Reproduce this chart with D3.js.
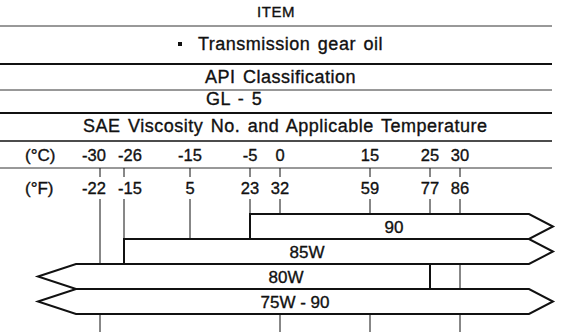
<!DOCTYPE html>
<html>
<head>
<meta charset="utf-8">
<script src="https://cdn.jsdelivr.net/npm/d3@7/dist/d3.min.js"></script>
<style>
  body { margin: 0; background: #fff; }
  svg { display: block; font-family: "Liberation Sans", Arial, Helvetica, sans-serif; }
  text { fill: #111; stroke: #111; stroke-width: 0.35px; }
</style>
</head>
<body>
<svg id="chart" width="576" height="332"></svg>
<script>
// header table rows
const headerText = ["ITEM", "Transmission gear oil", "API Classification", "GL - 5", "SAE Viscosity No. and Applicable Temperature"];

// temperature scale
const celsius = [-30, -26, -15, -5, 0, 15, 25, 30];
const fahrenheit = [-22, -15, 5, 23, 32, 59, 77, 86];
const unitLabels = ["(°C)", "(°F)"];
const bottomTicks = [-30, 0, 15, 30];

// viscosity grades, range in °C (null = arrow, open ended)
const grades = ["90", "85W", "80W", "75W - 90"];
const gradeFrom = [-5, -26, null, null];
const gradeTo = [null, null, 25, null];
const gradeLabelAt = [19, 4.5, 1, 2.5];

const svg = d3.select("#chart");

// layout
const ruleY = [26, 64, 90, 113, 141, 168];
const ruleW = [1, 2, 1, 2, 1.5, 1];
const headerLayout = [
  { x: 276, anchor: "middle", base: 17, size: 15 },
  { x: 198, anchor: "start", base: 50, size: 18 },
  { x: 205, anchor: "start", base: 83, size: 18 },
  { x: 206, anchor: "start", base: 105, size: 18 },
  { x: 83, anchor: "start", base: 132, size: 18 }
];

const x = d3.scaleLinear().domain([-30, 30]).range([100, 460]);
const y = d3.scaleBand().domain(grades).range([214, 314]);
const leftTip = 38, leftBase = 76, rightBase = 529, rightTip = 553;

// push crowded tick labels apart
const labelShift = (d, i) => {
  let dx = 0;
  if (i > 0 && x(d) - x(celsius[i - 1]) < 25) dx += 6;
  if (i < celsius.length - 1 && x(celsius[i + 1]) - x(d) < 25) dx -= 6;
  return dx;
};

// horizontal rules
svg.selectAll(".rule")
  .data(ruleY)
  .join("line")
  .attr("class", "rule")
  .attr("x1", 0)
  .attr("x2", 552)
  .attr("y1", (d) => d)
  .attr("y2", (d) => d)
  .attr("stroke", (d, i) => (ruleW[i] < 1.5 ? "#333" : "#111"))
  .attr("stroke-width", (d, i) => ruleW[i]);

// header texts
svg.selectAll(".head")
  .data(headerText)
  .join("text")
  .attr("class", "head")
  .attr("x", (d, i) => headerLayout[i].x)
  .attr("y", (d, i) => headerLayout[i].base)
  .attr("text-anchor", (d, i) => headerLayout[i].anchor)
  .attr("font-size", (d, i) => headerLayout[i].size)
  .attr("letter-spacing", 0.5)
  .attr("word-spacing", 2)
  .text((d) => d);

svg.append("rect")
  .attr("x", 178)
  .attr("y", 42)
  .attr("width", 4)
  .attr("height", 4)
  .attr("fill", "#111");

// unit labels
svg.selectAll(".unit")
  .data(unitLabels)
  .join("text")
  .attr("class", "unit")
  .attr("x", 25)
  .attr("y", (d, i) => (i === 0 ? 161 : 194))
  .attr("font-size", 17)
  .text((d) => d);

// tick labels
svg.selectAll(".cLabel")
  .data(celsius)
  .join("text")
  .attr("class", "cLabel")
  .attr("x", (d, i) => x(d) + labelShift(d, i))
  .attr("y", 161)
  .attr("text-anchor", "middle")
  .attr("font-size", 16.5)
  .text((d) => d);

svg.selectAll(".fLabel")
  .data(fahrenheit)
  .join("text")
  .attr("class", "fLabel")
  .attr("x", (d, i) => x(celsius[i]) + labelShift(celsius[i], i))
  .attr("y", 194)
  .attr("text-anchor", "middle")
  .attr("font-size", 16.5)
  .text((d) => d);

// short ticks under the °C rule
svg.selectAll(".tickTop")
  .data(celsius)
  .join("line")
  .attr("class", "tickTop")
  .attr("x1", (d) => x(d))
  .attr("x2", (d) => x(d))
  .attr("y1", 168)
  .attr("y2", 177)
  .attr("stroke", "#111")
  .attr("stroke-width", 1);

// grid lines behind the grade bars
svg.selectAll(".grid")
  .data(celsius)
  .join("line")
  .attr("class", "grid")
  .attr("x1", (d) => x(d))
  .attr("x2", (d) => x(d))
  .attr("y1", 199)
  .attr("y2", 300)
  .attr("stroke", "#111")
  .attr("stroke-width", 1);

svg.selectAll(".gridBottom")
  .data(bottomTicks)
  .join("line")
  .attr("class", "gridBottom")
  .attr("x1", (d) => x(d))
  .attr("x2", (d) => x(d))
  .attr("y1", 300)
  .attr("y2", 332)
  .attr("stroke", "#111")
  .attr("stroke-width", 1);

// grade bars
const gradePath = (d, i) => {
  const t = y(d), b = t + y.bandwidth(), m = (t + b) / 2;
  const openLeft = gradeFrom[i] === null;
  const openRight = gradeTo[i] === null;
  const x0 = openLeft ? leftBase : x(gradeFrom[i]);
  const x1 = openRight ? rightBase : x(gradeTo[i]);
  const p = d3.path();
  if (openLeft) {
    p.moveTo(leftTip, m);
    p.lineTo(x0, t);
  } else {
    p.moveTo(x0, b);
    p.lineTo(x0, t);
  }
  p.lineTo(x1, t);
  if (openRight) p.lineTo(rightTip, m);
  p.lineTo(x1, b);
  p.lineTo(x0, b);
  p.closePath();
  return p.toString();
};

svg.selectAll(".grade")
  .data(grades)
  .join("path")
  .attr("class", "grade")
  .attr("d", gradePath)
  .attr("fill", "#fff")
  .attr("stroke", "#111")
  .attr("stroke-width", 2)
  .attr("stroke-linejoin", "miter");

svg.selectAll(".gradeLabel")
  .data(grades)
  .join("text")
  .attr("class", "gradeLabel")
  .attr("x", (d, i) => x(gradeLabelAt[i]))
  .attr("y", (d) => y(d) + y.bandwidth() / 2 + 6)
  .attr("text-anchor", "middle")
  .attr("font-size", 17)
  .text((d) => d);
</script>
</body>
</html>
